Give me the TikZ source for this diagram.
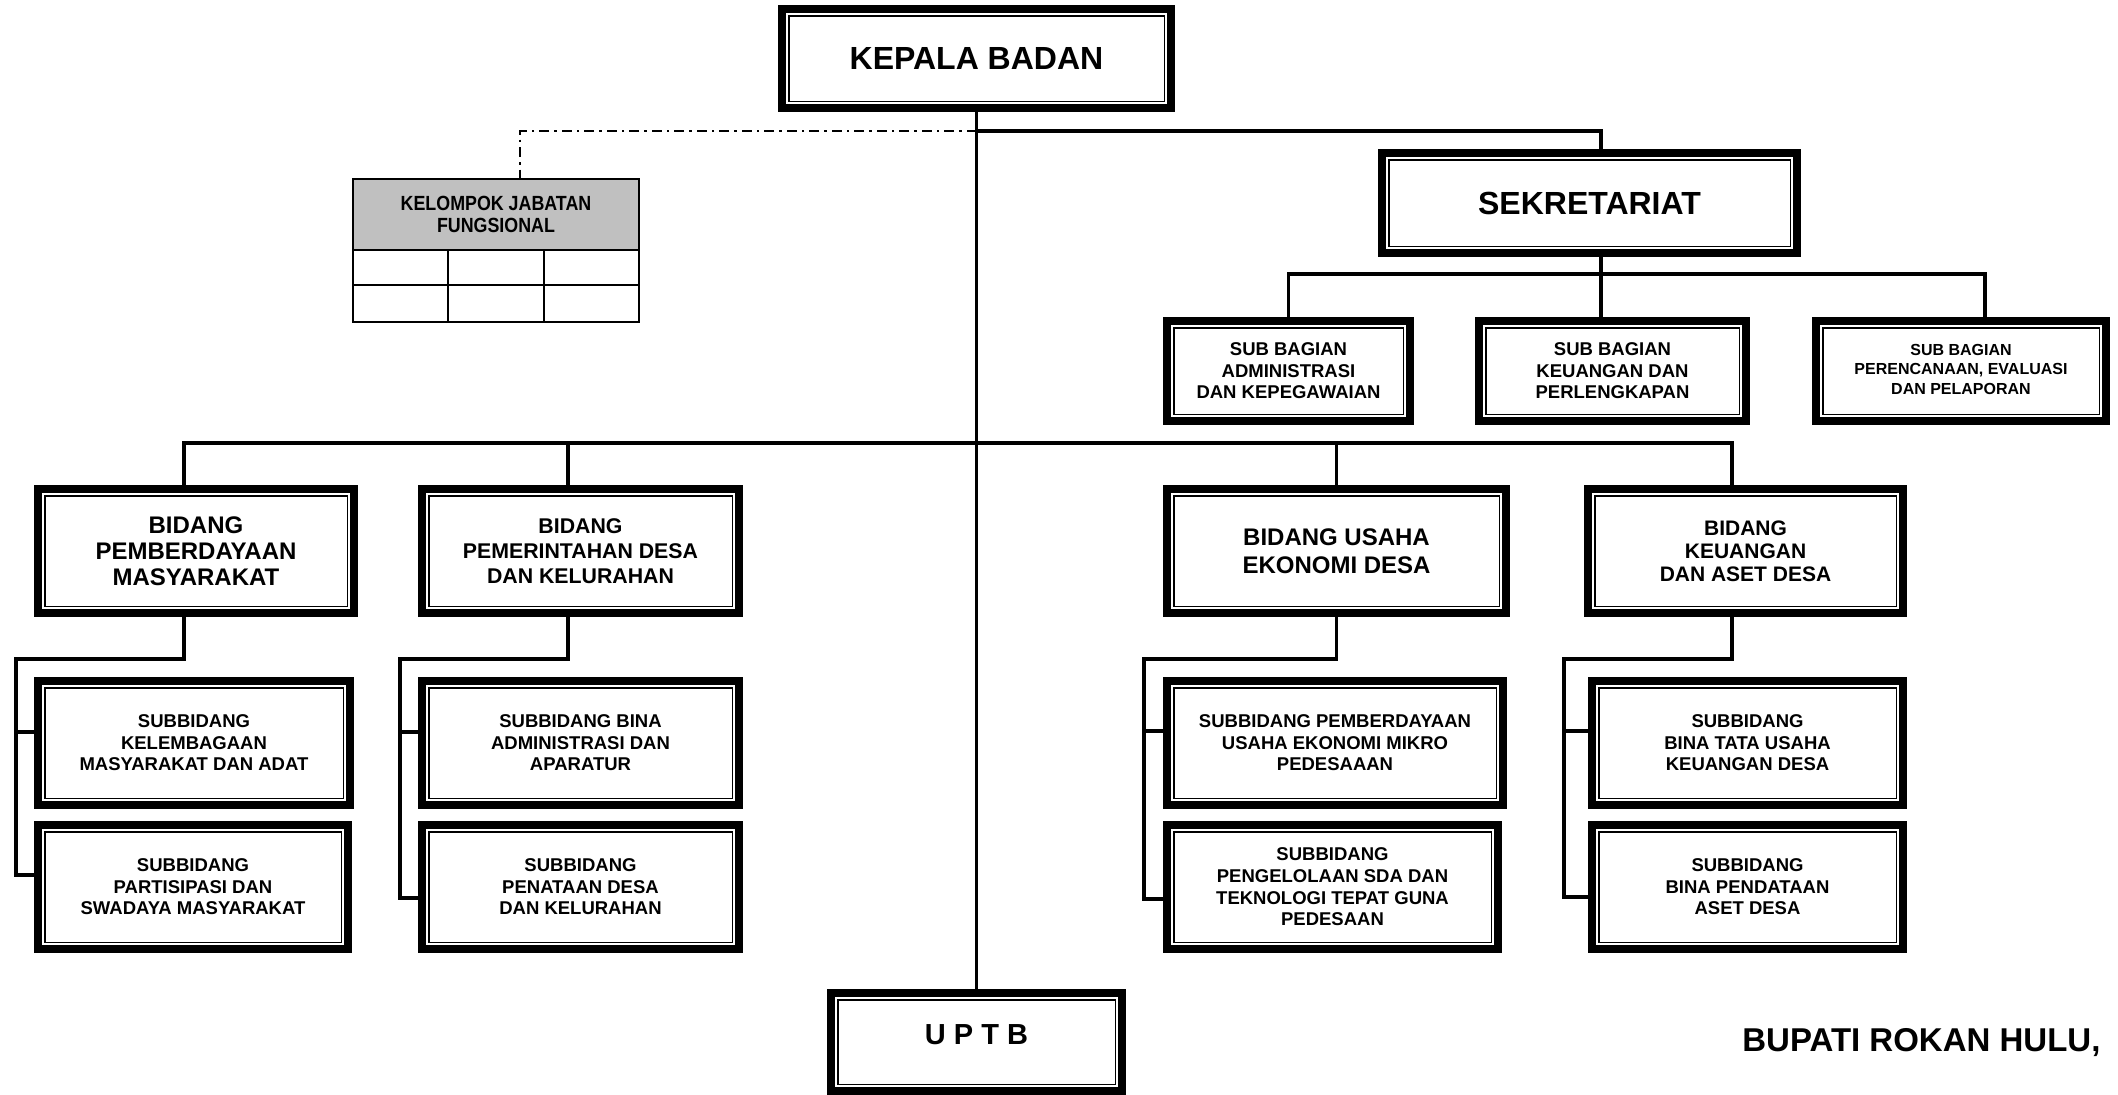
\documentclass[tikz,border=0pt]{standalone}
\usepackage{fontspec}
\setmainfont{Liberation Sans}
\newfontfamily\kjffont[FakeStretch=0.87]{Liberation Sans}
\definecolor{hdrgray}{HTML}{C0C0C0}
\tikzset{
  obox/.style={draw, line width=8pt, inner sep=0pt, align=center, font=\bfseries,
    path picture={\draw[line width=1.5pt]
      ([shift={(6.75pt,-6.75pt)}]path picture bounding box.north west) rectangle
      ([shift={(-6.75pt,6.75pt)}]path picture bounding box.south east);}},
  conn/.style={line width=3.5pt, line cap=rect},
  ddash/.style={line width=2pt, dash pattern=on 10pt off 5pt on 2.5pt off 5pt},
  tline/.style={line width=1.8pt},
}
\newcommand\bx[8]{\node[obox, minimum width={#4pt-#2pt-8pt}, minimum height={#5pt-#3pt-8pt},
  font={\fontsize{#6}{#7}\selectfont\bfseries}] (#1) at ({(#2+#4)/2},{(#3+#5)/2}) {#8};}
\begin{document}
\begin{tikzpicture}[x=1pt,y=-1pt]
\useasboundingbox (0,0) rectangle (2118,1095);

% main boxes
\bx{kb}{778}{5}{1175}{112}{32}{36}{KEPALA BADAN}
\bx{sek}{1378}{149}{1801}{257}{32}{36}{SEKRETARIAT}
\bx{sb1}{1163}{317}{1414}{425}{18.5}{21.5}{SUB BAGIAN\\ADMINISTRASI\\DAN KEPEGAWAIAN}
\bx{sb2}{1475}{317}{1750}{425}{18.5}{21.5}{SUB BAGIAN\\KEUANGAN DAN\\PERLENGKAPAN}
\bx{sb3}{1812}{317}{2110}{425}{16}{19.5}{\raisebox{3pt}{\begin{tabular}{@{}c@{}}SUB BAGIAN\\PERENCANAAN, EVALUASI\\DAN PELAPORAN\end{tabular}}}

\bx{b1}{34}{485}{358}{617}{24}{26}{BIDANG\\PEMBERDAYAAN\\MASYARAKAT}
\bx{b2}{418}{485}{743}{617}{21.3}{25}{BIDANG\\PEMERINTAHAN DESA\\DAN KELURAHAN}
\bx{b3}{1163}{485}{1510}{617}{24}{28}{BIDANG USAHA\\EKONOMI DESA}
\bx{b4}{1584}{485}{1907}{617}{21}{23}{BIDANG\\KEUANGAN\\DAN ASET DESA}

\bx{s1a}{34}{677}{354}{809}{18.5}{21.6}{SUBBIDANG\\KELEMBAGAAN\\MASYARAKAT DAN ADAT}
\bx{s1b}{34}{821}{352}{953}{18.5}{21.6}{SUBBIDANG\\PARTISIPASI DAN\\SWADAYA MASYARAKAT}
\bx{s2a}{418}{677}{743}{809}{18.5}{21.6}{SUBBIDANG BINA\\ADMINISTRASI DAN\\APARATUR}
\bx{s2b}{418}{821}{743}{953}{18.5}{21.6}{SUBBIDANG\\PENATAAN DESA\\DAN KELURAHAN}
\bx{s3a}{1163}{677}{1507}{809}{18.5}{21.6}{SUBBIDANG PEMBERDAYAAN\\USAHA EKONOMI MIKRO\\PEDESAAAN}
\bx{s3b}{1163}{821}{1502}{953}{18.5}{21.6}{SUBBIDANG\\PENGELOLAAN SDA DAN\\TEKNOLOGI TEPAT GUNA\\PEDESAAN}
\bx{s4a}{1588}{677}{1907}{809}{18.5}{21.6}{SUBBIDANG\\BINA TATA USAHA\\KEUANGAN DESA}
\bx{s4b}{1588}{821}{1907}{953}{18.5}{21.6}{SUBBIDANG\\BINA PENDATAAN\\ASET DESA}

\bx{uptb}{827}{989}{1126}{1095}{29}{34}{\raisebox{14pt}{U P T B}}

\node[anchor=base east, font={\fontsize{33}{38}\selectfont\bfseries}] (bup) at (2104,1051) {BUPATI ROKAN HULU,};

% jabatan fungsional table
\node[draw, tline, fill=hdrgray, minimum width=286pt, minimum height=71pt, inner sep=0pt,
  align=center, font={\fontsize{20.5}{22.7}\selectfont\kjffont\bfseries}] (kjf) at (496,214.5)
  {KELOMPOK JABATAN\\FUNGSIONAL};
\draw[tline] (352.9,250.5) rectangle (639.1,322.1);
\draw[tline] (352.9,285) -- (639.1,285);
\draw[tline] (448,250.5) -- (448,322.1);
\draw[tline] (544,250.5) -- (544,322.1);

% junctions
\coordinate (j1) at (976.5,131);
\coordinate (j2) at (1601,274);
\coordinate (j3) at (976.5,443);

% connectors
\draw[ddash] (j1) -| ([xshift=24pt]kjf.north);
\draw[conn] (kb.south) -- (uptb.north);
\draw[conn] (j1) -| ([xshift=11.5pt]sek.north);
\draw[conn] ([xshift=11.5pt]sek.south) -- (j2);
\draw[conn] (sb1.north) |- (j2) -| ([xshift=24pt]sb3.north);
\draw[conn] (j2) -- ([xshift=-11.5pt]sb2.north);

\draw[conn] ([xshift=-12pt]b1.north) |- (j3) -| ([xshift=-13.5pt]b4.north);
\draw[conn] ([xshift=-12.5pt]b2.north) -- ([xshift=-12.5pt]b2.north |- j3);
\draw[conn] (b3.north) -- (b3.north |- j3);

\draw[conn] ([xshift=-12pt]b1.south) -- ++(0,42) -| ([xshift=-18pt,yshift=12pt]s1b.west) -- ([yshift=12pt]s1b.west);
\draw[conn] ([xshift=-18pt,yshift=11pt]s1a.west) -- ([yshift=11pt]s1a.west);

\draw[conn] ([xshift=-12.5pt]b2.south) -- ++(0,42) -| ([xshift=-18pt,yshift=-11pt]s2b.west) -- ([yshift=-11pt]s2b.west);
\draw[conn] ([xshift=-18pt,yshift=11pt]s2a.west) -- ([yshift=11pt]s2a.west);

\draw[conn] (b3.south) -- ++(0,42) -| ([xshift=-19pt,yshift=-12pt]s3b.west) -- ([yshift=-12pt]s3b.west);
\draw[conn] ([xshift=-19pt,yshift=12pt]s3a.west) -- ([yshift=12pt]s3a.west);

\draw[conn] ([xshift=-13.5pt]b4.south) -- ++(0,42) -| ([xshift=-24pt,yshift=-10pt]s4b.west) -- ([yshift=-10pt]s4b.west);
\draw[conn] ([xshift=-24pt,yshift=12pt]s4a.west) -- ([yshift=12pt]s4a.west);
\end{tikzpicture}
\end{document}
